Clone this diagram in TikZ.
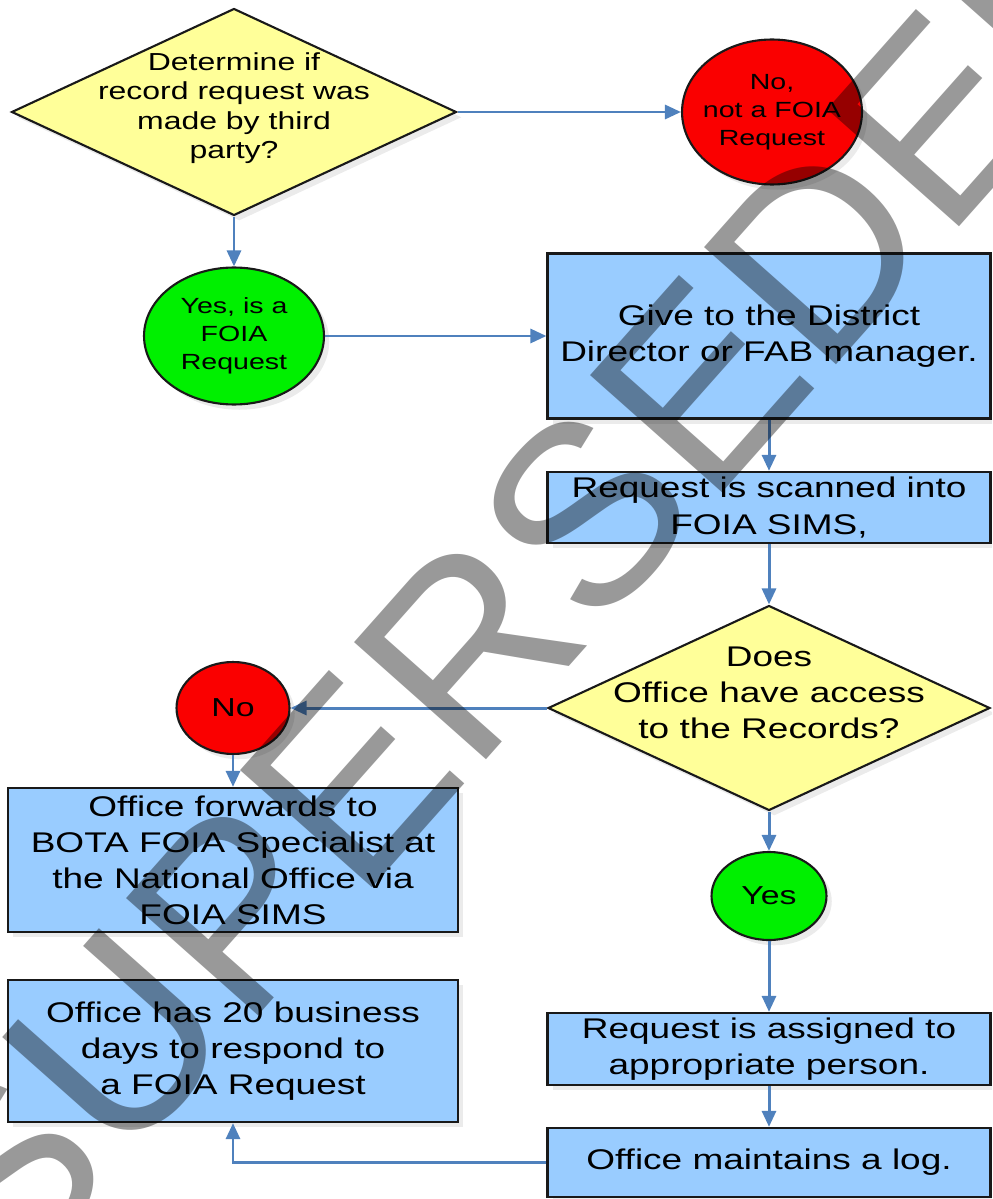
\documentclass[tikz,border=0pt]{standalone}
\usepackage{fontspec}
\setmainfont{Liberation Sans}[FakeStretch=1.3]
\newfontfamily\stampfont{Liberation Sans}
\usetikzlibrary{shapes.geometric,arrows.meta,shadows}
\definecolor{boxblue}{RGB}{153,204,255}
\definecolor{askyellow}{RGB}{255,255,153}
\definecolor{goodgreen}{RGB}{0,240,0}
\definecolor{badred}{RGB}{250,0,0}
\definecolor{flowblue}{RGB}{79,129,189}
\newcommand{\boxsize}{\fontsize{16.2pt}{20.5pt}\selectfont}
\newcommand{\asksize}{\fontsize{14pt}{16.8pt}\selectfont}
\newcommand{\ovalsize}{\fontsize{12.5pt}{15.9pt}\selectfont}
\newcommand{\tagsize}{\fontsize{14.8pt}{18pt}\selectfont}
\begin{document}
\begin{tikzpicture}[x=0.02cm,y=-0.02cm,
  softshadow/.style={drop shadow={fill=black!40,opacity=0.2,shadow xshift=3pt,shadow yshift=-3pt}},
  procbox/.style={draw=black!90,line width=1.3pt,fill=boxblue,softshadow,minimum width=8.86cm,align=center,inner sep=0pt,font=\boxsize},
  askbox/.style={diamond,draw=black!90,line width=1.2pt,fill=askyellow,softshadow,inner sep=0pt},
  asktext/.style={align=center,inner sep=0pt},
  oval/.style={ellipse,draw=black!90,line width=1.2pt,softshadow,align=center,inner sep=-8pt},
  flow/.style={draw=flowblue,line width=1.7pt,-{Triangle[length=0.32cm,width=0.28cm]}},
  stamp/.style={rotate=48.4,inner sep=0pt,text=black,text opacity=0.4,font=\stampfont\fontsize{146pt}{150pt}\selectfont}]
\useasboundingbox (0,0) rectangle (992,1199);
\clip (0,0) rectangle (992,1199);

\node[askbox, minimum width=8.9cm, minimum height=4.14cm] (d1) at (234,112) {};
\node[asktext, font=\asksize] (d1txt) at ([yshift=0.08cm]d1.center)
{Determine if\\record request was\\made by third\\party?};

\node[oval, fill=badred, minimum width=3.6cm, minimum height=2.9cm, font=\ovalsize] (nofoia) at (772,112)
{No,\\not a FOIA\\Request};

\node[oval, fill=goodgreen, minimum width=3.6cm, minimum height=2.74cm, font=\ovalsize] (yesfoia) at (234,336)
{Yes, is a\\FOIA\\Request};

\node[procbox, minimum height=3.3cm] (give) at (769,336)
{Give to the District\\Director or FAB manager.};

\node[procbox, minimum height=1.42cm] (scan) at (769,507.5)
{Request is scanned into\\FOIA SIMS,};

\node[askbox, minimum width=8.84cm, minimum height=4.1cm] (d2) at (769,708) {};
\node[asktext, font=\boxsize] (d2txt) at ([yshift=0.3cm]d2.center)
{Does\\Office have access\\to the Records?};

\node[oval, fill=badred, minimum width=2.26cm, minimum height=1.84cm, font=\tagsize] (no) at (233,708) {No};

\node[procbox, minimum width=9cm, minimum height=2.88cm] (fwd) at (233,860)
{Office forwards to\\BOTA FOIA Specialist at\\the National Office via\\FOIA SIMS};

\node[procbox, minimum width=9cm, minimum height=2.84cm] (days) at (233,1051)
{Office has 20 business\\days to respond to\\a FOIA Request};

\node[oval, fill=goodgreen, minimum width=2.3cm, minimum height=1.76cm, font=\tagsize] (yes) at (769,896) {Yes};

\node[procbox, minimum height=1.44cm] (assign) at (769,1049)
{Request is assigned to\\appropriate person.};

\node[procbox, minimum height=1.38cm] (log) at (769,1162.5)
{Office maintains a log.};

\draw[flow] (d1.south) -- (yesfoia.north);
\draw[flow] (d1.east) -- (nofoia.west);
\draw[flow] (yesfoia.east) -- (give.west);
\draw[flow] (give.south) -- (scan.north);
\draw[flow] (scan.south) -- (d2.north);
\draw[flow] (d2.west) -- (no.east);
\draw[flow] (no.south) -- (fwd.north);
\draw[flow] (d2.south) -- (yes.north);
\draw[flow] (yes.south) -- (assign.north);
\draw[flow] (assign.south) -- (log.north);
\draw[flow] (log.west) -| (days.south);

\node[stamp] (wm) at (529,578) {SUPERSEDED};
\end{tikzpicture}
\end{document}
